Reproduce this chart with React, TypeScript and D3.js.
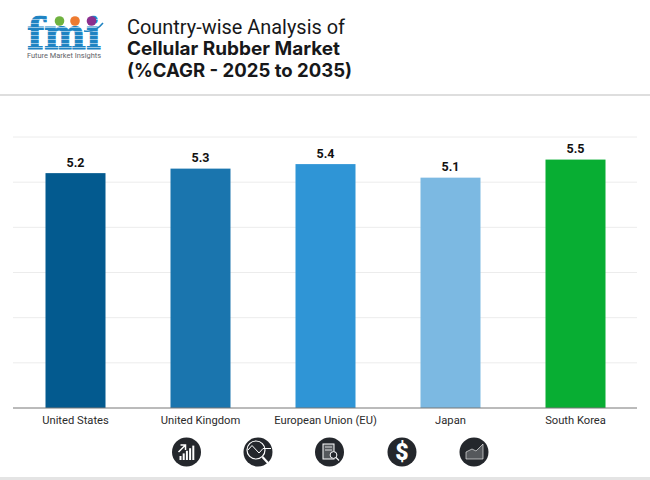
import React from 'react';
import * as d3 from 'd3';

const countries = ['United States', 'United Kingdom', 'European Union (EU)', 'Japan', 'South Korea'];
const cagrValues = [5.2, 5.3, 5.4, 5.1, 5.5];
const barColors = ['#035a8f', '#1a75ae', '#2f95d6', '#7cb9e2', '#08ae33'];
const gridTicks = [0, 1, 2, 3, 4, 5, 6];
const titleLines = ['Country-wise Analysis of', 'Cellular Rubber Market', '(%CAGR - 2025 to 2035)'];
const titleWidths = [218, 213, 225];
const titleBaselines = [33.5, 55, 77];

const width = 650;
const height = 480;
const font = 'Roboto, sans-serif';

const x = d3.scaleBand<string>().domain(countries).range([13, 638]).paddingInner(0.52).paddingOuter(0.26);
const y = d3.scaleLinear().domain([0, 6]).range([408, 137]);

const Logo = () => (
  <g>
    <defs>
      <pattern id="fmi-stripes" width={4} height={4} patternUnits="userSpaceOnUse">
        <rect width={4} height={4} fill="#1f83c2" />
        <rect y={3.3} width={4} height={0.7} fill="#cfe5f3" />
      </pattern>
    </defs>
    <text x={27} y={49} fontFamily="'DejaVu Serif', serif" fontWeight={700} fontSize={43}
      textLength={74} lengthAdjust="spacingAndGlyphs" fill="url(#fmi-stripes)"
      stroke="url(#fmi-stripes)" strokeWidth={1}>fmi</text>
    <circle cx={59.5} cy={21} r={4.8} fill="#6fb23f" />
    <circle cx={75} cy={21} r={4.8} fill="#ee7b30" />
    <circle cx={91.5} cy={21} r={4.8} fill="#8b2f8f" />
    <path d="M84,31 Q95,33 103,23" fill="none" stroke="#1f83c2" strokeWidth={1.5} />
    <text x={27} y={58} fontFamily={font} fontSize={7.6} fill="#5f6368"
      textLength={74} lengthAdjust="spacingAndGlyphs">Future Market Insights</text>
  </g>
);

const iconCenters = [186.5, 258, 329.5, 402, 474];

const Icons = () => (
  <g>
    {iconCenters.map(c => <circle key={c} cx={c} cy={452} r={14.5} fill="#24272c" />)}
    <g stroke="#ffffff" fill="none">
      {/* growth bars */}
      {[0, 1, 2, 3, 4].map(i => (
        <line key={i} x1={180.5 + i * 3.2} x2={180.5 + i * 3.2} y1={460} y2={456 - i * 2.6} strokeWidth={2} />
      ))}
      <path d="M178.5,452 L185,445.5 M180.5,445 L185.5,445 L185.5,450" strokeWidth={1.5} />
      {/* magnified trend */}
      <circle cx={256} cy={450} r={9} strokeWidth={1.2} />
      <path d="M248,450 L252,445.5 L259,453 L263,448.5 L271,448.5" strokeWidth={1} />
      <line x1={262.5} y1={457} x2={268} y2={463} strokeWidth={2.2} />
      {/* report */}
      <rect x={323} y={444} width={11} height={15} strokeWidth={1} fill="#55585c" />
      <path d="M325,447 H332 M325,450 H332" strokeWidth={0.8} />
      <circle cx={333.5} cy={455} r={3.4} strokeWidth={1} fill="#24272c" />
      <line x1={336} y1={457.5} x2={339} y2={460.5} strokeWidth={1.1} />
      {/* area trend */}
      <path d="M466,459 L466,452 L472,449 L476,451 L483,444 L483,459 Z" strokeWidth={0.6} fill="#55585c" />
    </g>
    <text x={402} y={460} textAnchor="middle" fontFamily={font} fontWeight={900} fontSize={23} fill="#ffffff">$</text>
  </g>
);

export default function App() {
  return (
    <svg width={width} height={height} viewBox={`0 0 ${width} ${height}`}
      style={{ position: 'absolute', left: 0, top: 0, background: '#ffffff' }}>
      <Logo />
      {titleLines.map((t, i) => (
        <text key={t} x={127} y={titleBaselines[i]} fontFamily={i === 0 ? font : 'Inter, sans-serif'} fontSize={i === 0 ? 19.5 : 18.5}
          fontWeight={i === 0 ? 400 : 700} fill="#17181a"
          textLength={titleWidths[i]} lengthAdjust="spacingAndGlyphs">{t}</text>
      ))}
      <rect x={0} y={94} width={width} height={2} fill="#dedede" />

      {gridTicks.slice(1).map(t => (
        <line key={t} x1={13} x2={637} y1={y(t)} y2={y(t)} stroke="#ececec" strokeWidth={1} />
      ))}

      {countries.map((c, i) => (
        <g key={c}>
          <rect x={x(c)} y={y(cagrValues[i])} width={x.bandwidth()} height={y(0) - y(cagrValues[i])} fill={barColors[i]} />
          <text x={x(c)! + x.bandwidth() / 2} y={y(cagrValues[i]) - 6.5} textAnchor="middle"
            fontFamily={font} fontWeight={700} fontSize={12.5} fill="#111111">{cagrValues[i].toFixed(1)}</text>
          <text x={x(c)! + x.bandwidth() / 2} y={424} textAnchor="middle"
            fontFamily={font} fontSize={11.2} fill="#2b2b2b">{c}</text>
        </g>
      ))}
      <line x1={13} x2={637} y1={y(0)} y2={y(0)} stroke="#777777" strokeWidth={1} />

      <Icons />
      <rect x={0} y={477} width={width} height={3} fill="#e4e4e4" />
    </svg>
  );
}
